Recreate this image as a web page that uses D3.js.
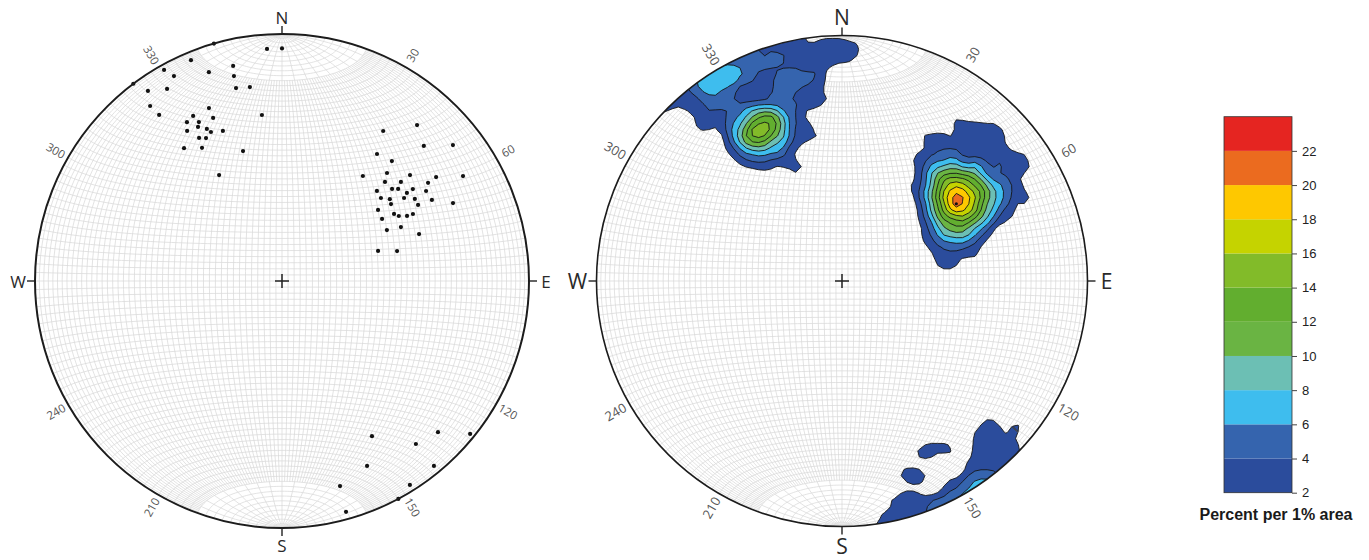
<!DOCTYPE html>
<html>
<head>
<meta charset="utf-8">
<script src="https://cdn.jsdelivr.net/npm/d3@7"></script>
<style>
  body { margin: 0; background: #ffffff; }
  svg { display: block; }
</style>
</head>
<body>
<svg id="chart" width="1369" height="560"></svg>
<script>
// ---------------- DATA (trend / plunge of poles, degrees) ----------------
const nwTrend  = [344, 356.3, 0, 323, 337.6, 330.8, 332.2, 340.7, 347.2, 346.8, 346.6, 350.6, 324.8, 329.1, 323.0, 323.5, 337.1, 331.7, 337.1, 353.1, 329.1, 332.4, 331.4, 333.7, 327.7, 334.5, 338.5, 329.9, 332.0, 323.6, 329.0, 343.3, 329.3];
const nwPlunge = [0, 6.5, 6.5, 0, 3.7, 2.4, 6.9, 11.4, 11.7, 15.9, 20.8, 21.5, 6.5, 10.3, 12.3, 17.5, 25.0, 25.1, 29.1, 32.8, 26.0, 28.2, 29.7, 31.9, 28.9, 33.6, 35.0, 33.5, 34.8, 33.6, 37.2, 44.3, 48.7];

const neTrend  = [40.9, 34.0, 46.4, 51.5, 36.8, 42.5, 37.6, 44.2, 50.4, 56.0, 59.9, 46.1, 50.2, 56.1, 46.5, 50.1, 51.6, 54.9, 58.0, 54.8, 50.0, 52.8, 55.8, 58.3, 61.6, 54.8, 60.8, 65.5, 53.5, 59.1, 60.9, 62.5, 62.9, 58.2, 65.6, 64.1, 71.1, 72.6, 75.4];
const nePlunge = [17.6, 27.6, 21.8, 12.6, 36.0, 34.5, 45.4, 38.9, 33.2, 25.7, 16.4, 41.7, 37.4, 29.5, 46.0, 41.5, 39.8, 35.5, 31.8, 38.1, 46.6, 44.4, 40.0, 36.9, 31.6, 45.1, 37.0, 24.9, 50.0, 46.1, 45.0, 42.4, 40.2, 50.6, 46.1, 51.0, 41.0, 56.5, 50.2];

const seTrend  = [149.9, 134.1, 129.1, 140.6, 155.3, 140.6, 164.2, 147.9, 151.9, 164.5];
const sePlunge = [28.2, 13.1, 2.1, 15.7, 18.7, 3.5, 14.8, 2.9, 0, 3.4];

const azimuthLabels   = [30, 60, 120, 150, 210, 240, 300, 330];
const cardinalLabels  = ["N", "E", "S", "W"];
const cardinalAzimuth = [0, 90, 180, 270];

const contourLevels = [2, 4, 6, 8, 10, 12, 14, 16, 18, 20, 22];
const colorbarMax   = 24;
const levelColors   = ["#2b4c9c", "#3564ae", "#3ebdee", "#6cbfb4", "#6ab443", "#62ae2f", "#82bb29", "#c5d300", "#fec800", "#eb6b1f", "#e52521"];
const colorbarTicks = [2, 4, 6, 8, 10, 12, 14, 16, 18, 20, 22];
const colorbarTitle = "Percent per 1% area";
const countingArea  = 0.01; // fraction of hemisphere

// ---------------- SETUP ----------------
const svg = d3.select("#chart");
const defs = svg.append("defs");
const rad = Math.PI / 180;

const trends  = nwTrend.concat(neTrend, seTrend);
const plunges = nwPlunge.concat(nePlunge, sePlunge);

function lineToLonLat(t, p) {
  const tr = t * rad, pr = p * rad;
  const n = Math.cos(pr) * Math.cos(tr), e = Math.cos(pr) * Math.sin(tr), d = Math.sin(pr);
  return [Math.atan2(e, d) / rad, Math.asin(Math.max(-1, Math.min(1, n))) / rad];
}
function lonLatToVec(ll) {
  const lo = ll[0] * rad, la = ll[1] * rad;
  return [Math.sin(la), Math.cos(la) * Math.sin(lo), Math.cos(la) * Math.cos(lo)];
}
const lonlats = trends.map((t, i) => lineToLonLat(t, plunges[i]));
const vecs = lonlats.map(lonLatToVec);

const graticule = d3.geoGraticule()
  .extentMajor([[-90, -90], [90, 90]])
  .extentMinor([[-90, -70], [90, 70]])
  .stepMajor([10, 2])
  .stepMinor([2, 2]);

function blurGrid(vals, n, sigma) {
  const r = Math.ceil(sigma * 3);
  const k = d3.range(-r, r + 1).map(i => Math.exp(-i * i / (2 * sigma * sigma)));
  const ks = d3.sum(k);
  const tmp = new Array(n * n), out = new Array(n * n);
  for (let j = 0; j < n; j++) for (let i = 0; i < n; i++) {
    let s = 0;
    for (let q = -r; q <= r; q++) { const ii = Math.min(n - 1, Math.max(0, i + q)); s += vals[j * n + ii] * k[q + r]; }
    tmp[j * n + i] = s / ks;
  }
  for (let j = 0; j < n; j++) for (let i = 0; i < n; i++) {
    let s = 0;
    for (let q = -r; q <= r; q++) { const jj = Math.min(n - 1, Math.max(0, j + q)); s += tmp[jj * n + i] * k[q + r]; }
    out[j * n + i] = s / ks;
  }
  return out;
}

const nets = [
  { cx: 282, cy: 281, R: 247,   kind: "points",   cardSize: 17, cardOff: 17, azSize: 11.5, azOff: 14, rimW: 2.0 },
  { cx: 842, cy: 281, R: 245.5, kind: "contours", cardSize: 21, cardOff: 19, azSize: 13,   azOff: 16, rimW: 1.6 }
];

nets.forEach((cfg, k) => {
  const { cx, cy, R } = cfg;
  const proj = d3.geoAzimuthalEqualArea()
    .rotate([0, 0])
    .scale(R / Math.SQRT2)
    .translate([cx, cy])
    .clipAngle(90)
    .precision(0.1);
  const path = d3.geoPath(proj);
  const g = svg.append("g");

  const clipId = "clip" + k;
  defs.append("clipPath").attr("id", clipId)
    .append("circle").attr("cx", cx).attr("cy", cy).attr("r", R);

  g.append("circle").attr("cx", cx).attr("cy", cy).attr("r", R).attr("fill", "#ffffff");
  g.append("path").datum(graticule())
    .attr("d", path)
    .attr("fill", "none")
    .attr("stroke", "#dadada")
    .attr("stroke-width", 0.75);

  if (cfg.kind === "contours") {
    const cosA = 1 - countingArea;
    const gn = 90, ext = R * 1.12, cell = 2 * ext / (gn - 1);
    const raw = new Array(gn * gn);
    for (let j = 0; j < gn; j++) {
      for (let i = 0; i < gn; i++) {
        const ll = proj.invert([cx - ext + i * cell, cy - ext + j * cell]);
        let v = 0;
        if (ll && isFinite(ll[0]) && isFinite(ll[1])) {
          const u = lonLatToVec(ll);
          let c = 0;
          vecs.forEach(w => { if (Math.abs(u[0] * w[0] + u[1] * w[1] + u[2] * w[2]) >= cosA) c++; });
          v = c / vecs.length * 100;
        }
        raw[j * gn + i] = v;
      }
    }
    const values = blurGrid(raw, gn, 0.75);
    const contours = d3.contours().size([gn, gn]).thresholds(contourLevels)(values);
    const toPx = d3.geoTransform({
      point(x, y) { this.stream.point(cx - ext + (x - 0.5) * cell, cy - ext + (y - 0.5) * cell); }
    });
    const cpath = d3.geoPath(toPx);
    const cg = g.append("g").attr("clip-path", `url(#${clipId})`);
    cg.selectAll("path").data(contours).join("path")
      .attr("d", cpath)
      .attr("fill", d => levelColors[contourLevels.indexOf(d.value)])
      .attr("stroke", "#161616")
      .attr("stroke-width", 0.9)
      .attr("stroke-linejoin", "round");
    let mi = 0;
    values.forEach((v, i) => { if (v > values[mi]) mi = i; });
    cg.append("circle")
      .attr("cx", cx - ext + (mi % gn) * cell)
      .attr("cy", cy - ext + Math.floor(mi / gn) * cell)
      .attr("r", 1.6).attr("fill", "#111");
  } else {
    g.append("g").selectAll("circle").data(lonlats).join("circle")
      .attr("cx", d => proj(d)[0])
      .attr("cy", d => proj(d)[1])
      .attr("r", 2.1)
      .attr("fill", "#111");
  }

  g.append("circle").attr("cx", cx).attr("cy", cy).attr("r", R)
    .attr("fill", "none").attr("stroke", "#1c1c1c").attr("stroke-width", cfg.rimW);

  g.append("path")
    .attr("d", `M${cx - 7},${cy}H${cx + 7}M${cx},${cy - 7}V${cy + 7}`)
    .attr("stroke", "#222").attr("stroke-width", 1.5);

  cardinalLabels.forEach((lab, i) => {
    const a = cardinalAzimuth[i] * rad;
    const sx = Math.sin(a), sy = -Math.cos(a);
    g.append("line")
      .attr("x1", cx + R * sx).attr("y1", cy + R * sy)
      .attr("x2", cx + (R + 8) * sx).attr("y2", cy + (R + 8) * sy)
      .attr("stroke", "#222").attr("stroke-width", 1.4);
    g.append("text")
      .attr("x", cx + (R + cfg.cardOff) * sx)
      .attr("y", cy + (R + cfg.cardOff) * sy)
      .attr("text-anchor", "middle")
      .attr("dominant-baseline", "central")
      .attr("font-family", "'Open Sans', 'DejaVu Sans', sans-serif")
      .attr("font-size", cfg.cardSize)
      .attr("fill", "#2a2a2a")
      .text(lab);
  });

  azimuthLabels.forEach(az => {
    const a = az * rad;
    const x = cx + (R + cfg.azOff) * Math.sin(a), y = cy - (R + cfg.azOff) * Math.cos(a);
    const rot = az < 180 ? az - 90 : az - 270;
    g.append("text")
      .attr("transform", `translate(${x},${y}) rotate(${rot})`)
      .attr("text-anchor", "middle")
      .attr("dominant-baseline", "central")
      .attr("font-family", "'Open Sans', 'DejaVu Sans', sans-serif")
      .attr("font-size", cfg.azSize)
      .attr("fill", "#555")
      .text(az);
  });
});

// ---------------- COLOUR BAR ----------------
const cbX = 1224, cbW = 68;
const cbScale = d3.scaleLinear().domain([2, colorbarMax]).range([492.7, 116.7]);
const cb = svg.append("g");
const bands = contourLevels.map((lv, i) => [lv, i < contourLevels.length - 1 ? contourLevels[i + 1] : colorbarMax]);
cb.selectAll("rect.band").data(bands).join("rect")
  .attr("class", "band")
  .attr("x", cbX)
  .attr("y", d => cbScale(d[1]))
  .attr("width", cbW)
  .attr("height", d => cbScale(d[0]) - cbScale(d[1]))
  .attr("fill", (d, i) => levelColors[i]);
cb.append("rect")
  .attr("x", cbX).attr("y", cbScale(colorbarMax))
  .attr("width", cbW).attr("height", cbScale(2) - cbScale(colorbarMax))
  .attr("fill", "none").attr("stroke", "#333").attr("stroke-width", 0.8);
const axis = cb.append("g")
  .attr("transform", `translate(${cbX + cbW},0)`)
  .call(d3.axisRight(cbScale).tickValues(colorbarTicks).tickSize(5).tickSizeOuter(0).tickPadding(5));
axis.select(".domain").remove();
axis.selectAll("text")
  .attr("font-family", "Arial, 'Liberation Sans', sans-serif")
  .attr("font-size", 13)
  .attr("fill", "#222");
axis.selectAll("line").attr("stroke", "#444");
cb.append("text")
  .attr("x", 1276).attr("y", 520)
  .attr("text-anchor", "middle")
  .attr("font-family", "Arial, 'Liberation Sans', sans-serif")
  .attr("font-weight", "bold")
  .attr("font-size", 16)
  .attr("fill", "#1a1a1a")
  .text(colorbarTitle);
</script>
</body>
</html>
